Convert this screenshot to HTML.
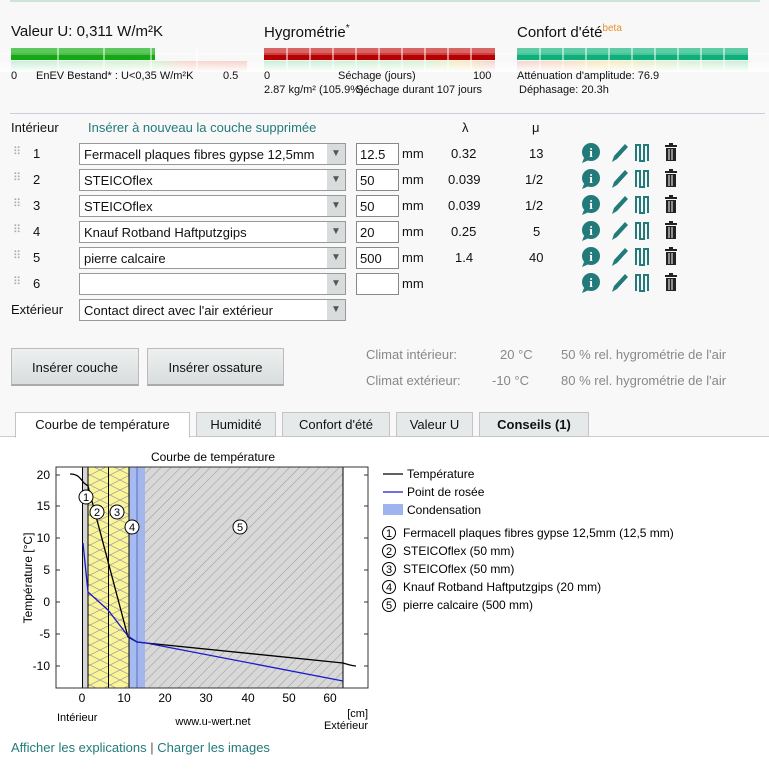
<!DOCTYPE html>
<html><head><meta charset="utf-8"><style>
*{margin:0;padding:0;box-sizing:border-box}
body{width:769px;height:770px;position:relative;background:#fff;font-family:"Liberation Sans","DejaVu Sans",sans-serif;font-size:13px;color:#111;overflow:hidden}
.top{position:absolute;left:0;top:0;width:769px;height:436px;background:#f8f8f8}
.a{position:absolute;white-space:nowrap}
.sel{position:absolute;left:79px;width:267px;height:22px;background:#fff;border:1px solid #999;font-size:13px;padding:3px 4px;overflow:hidden;white-space:nowrap}
.sel:after{content:"▼";position:absolute;right:0;top:0;width:18px;height:20px;background:#d8dcdc;color:#555;font-size:10px;text-align:center;line-height:20px}
.inp{position:absolute;left:356px;width:43px;height:22px;background:#fff;border:1px solid #888;padding:3px 3px;font-size:13px}
.btn{position:absolute;top:348px;height:38px;background:linear-gradient(#eef0f0,#d9dddd);border:1px solid #bbb;border-bottom:2px solid #aaa;text-align:center;line-height:38px;font-size:13px}
.tab{position:absolute;top:412px;height:25px;background:#e6e9e9;border:1px solid #c4c4c4;text-align:center;line-height:24px;font-size:13px}
.bar{position:absolute;height:12px}
.gry{color:#888}
</style></head><body>
<div class="top"></div>
<div class="a" style="left:10px;top:0;width:750px;height:2px;background:#cfe3d6"></div>

<div class="a" style="left:11px;top:23px;font-size:15px">Valeur U: 0,311 W/m²K</div>
<div class="a" style="left:264px;top:23px;font-size:15px">Hygrométrie<sup style="font-size:10px">*</sup></div>
<div class="a" style="left:517px;top:23px;font-size:15px">Confort d'été<sup style="font-size:10px;color:#e8902a">beta</sup></div>

<svg class="a" style="left:0;top:46px" width="769" height="28">
<defs>
<linearGradient id="fade" x1="0" y1="0" x2="0" y2="1"><stop offset="0" stop-color="#fff" stop-opacity="0"/><stop offset="1" stop-color="#fff" stop-opacity="1"/></linearGradient>
<linearGradient id="f1" x1="0" x2="1"><stop offset="0" stop-color="#c8efd8"/><stop offset="0.6" stop-color="#d9f2d6"/><stop offset="0.75" stop-color="#f7d7d2"/><stop offset="1" stop-color="#f5d3cf"/></linearGradient>
<linearGradient id="f2" x1="0" x2="1"><stop offset="0" stop-color="#c8efd8"/><stop offset="0.7" stop-color="#d9f2d6"/><stop offset="0.85" stop-color="#f8ecc0"/><stop offset="1" stop-color="#f5d3cf"/></linearGradient>
<linearGradient id="f3" x1="0" x2="1"><stop offset="0" stop-color="#f5d3cf"/><stop offset="0.4" stop-color="#f8ecc0"/><stop offset="0.7" stop-color="#d9f2d6"/><stop offset="1" stop-color="#c8efd8"/></linearGradient>
</defs>
<rect x="11" y="2" width="144" height="12" fill="#14a814"/><rect x="11" y="2" width="144" height="5" fill="#5cc85c"/>
<rect x="11" y="15" width="236" height="11" fill="url(#f1)"/>
<rect x="264" y="2" width="231" height="12" fill="#b80000"/><rect x="264" y="2" width="231" height="5" fill="#d86464"/>
<rect x="264" y="15" width="231" height="11" fill="url(#f2)"/>
<rect x="517" y="2" width="231" height="12" fill="#0eb07a"/><rect x="517" y="2" width="231" height="5" fill="#5ccca4"/>
<rect x="517" y="15" width="231" height="11" fill="url(#f3)"/>
<rect x="0" y="15" width="769" height="11" fill="url(#fade)"/>
<g stroke="#fff" stroke-width="1">
<line x1="58" y1="2" x2="58" y2="26"/><line x1="104" y1="2" x2="104" y2="26"/><line x1="151" y1="2" x2="151" y2="26"/><line x1="197" y1="2" x2="197" y2="26"/>
<line x1="287" y1="2" x2="287" y2="26"/><line x1="310" y1="2" x2="310" y2="26"/><line x1="333" y1="2" x2="333" y2="26"/><line x1="356" y1="2" x2="356" y2="26"/><line x1="379" y1="2" x2="379" y2="26"/><line x1="402" y1="2" x2="402" y2="26"/><line x1="425" y1="2" x2="425" y2="26"/><line x1="448" y1="2" x2="448" y2="26"/><line x1="471" y1="2" x2="471" y2="26"/>
<line x1="540" y1="2" x2="540" y2="26"/><line x1="563" y1="2" x2="563" y2="26"/><line x1="586" y1="2" x2="586" y2="26"/><line x1="609" y1="2" x2="609" y2="26"/><line x1="632" y1="2" x2="632" y2="26"/><line x1="655" y1="2" x2="655" y2="26"/><line x1="678" y1="2" x2="678" y2="26"/><line x1="701" y1="2" x2="701" y2="26"/><line x1="724" y1="2" x2="724" y2="26"/>
<line x1="0" y1="8" x2="769" y2="8" stroke="#fff" stroke-opacity="0.5"/>
</g>
</svg>
<div class="a" style="left:11px;top:70px;font-size:11px">0</div>
<div class="a" style="left:36px;top:70px;font-size:11px">EnEV Bestand* : U&lt;0,35 W/m²K</div>
<div class="a" style="left:223px;top:70px;font-size:11px">0.5</div>
<div class="a" style="left:264px;top:70px;font-size:11px">0</div>
<div class="a" style="left:338px;top:70px;font-size:11px">Séchage (jours)</div>
<div class="a" style="left:473px;top:70px;font-size:11px">100</div>
<div class="a" style="left:264px;top:84px;font-size:11px">2.87 kg/m² (105.9%)</div>
<div class="a" style="left:356px;top:84px;font-size:11px">Séchage durant 107 jours</div>
<div class="a" style="left:517px;top:70px;font-size:11px">Atténuation d'amplitude: 76.9</div>
<div class="a" style="left:519px;top:84px;font-size:11px">Déphasage: 20.3h</div>

<div class="a" style="left:10px;top:113px;width:755px;height:1px;background:#ccd"></div>
<div class="a" style="left:11px;top:120px">Intérieur</div>
<div class="a" style="left:88px;top:120px;color:#237a7a">Insérer à nouveau la couche supprimée</div>
<div class="a" style="left:462px;top:120px">λ</div>
<div class="a" style="left:532px;top:120px">μ</div>

<!-- rows -->
<div class="a gry" style="left:13px;top:145px;font-size:11px;color:#aaa">⠿</div><div class="a" style="left:33px;top:146px">1</div>
<div class="sel" style="top:143px">Fermacell plaques fibres gypse 12,5mm</div><div class="inp" style="top:143px">12.5</div>
<div class="a" style="left:402px;top:146px">mm</div><div class="a" style="left:451px;top:146px">0.32</div><div class="a" style="left:529px;top:146px">13</div>

<div class="a" style="left:13px;top:171px;font-size:11px;color:#aaa">⠿</div><div class="a" style="left:33px;top:172px">2</div>
<div class="sel" style="top:169px">STEICOflex</div><div class="inp" style="top:169px">50</div>
<div class="a" style="left:402px;top:172px">mm</div><div class="a" style="left:448px;top:172px">0.039</div><div class="a" style="left:525px;top:172px">1/2</div>

<div class="a" style="left:13px;top:197px;font-size:11px;color:#aaa">⠿</div><div class="a" style="left:33px;top:198px">3</div>
<div class="sel" style="top:195px">STEICOflex</div><div class="inp" style="top:195px">50</div>
<div class="a" style="left:402px;top:198px">mm</div><div class="a" style="left:448px;top:198px">0.039</div><div class="a" style="left:525px;top:198px">1/2</div>

<div class="a" style="left:13px;top:223px;font-size:11px;color:#aaa">⠿</div><div class="a" style="left:33px;top:224px">4</div>
<div class="sel" style="top:221px">Knauf Rotband Haftputzgips</div><div class="inp" style="top:221px">20</div>
<div class="a" style="left:402px;top:224px">mm</div><div class="a" style="left:451px;top:224px">0.25</div><div class="a" style="left:533px;top:224px">5</div>

<div class="a" style="left:13px;top:249px;font-size:11px;color:#aaa">⠿</div><div class="a" style="left:33px;top:250px">5</div>
<div class="sel" style="top:247px">pierre calcaire</div><div class="inp" style="top:247px">500</div>
<div class="a" style="left:402px;top:250px">mm</div><div class="a" style="left:455px;top:250px">1.4</div><div class="a" style="left:529px;top:250px">40</div>

<div class="a" style="left:13px;top:275px;font-size:11px;color:#aaa">⠿</div><div class="a" style="left:33px;top:276px">6</div>
<div class="sel" style="top:273px"></div><div class="inp" style="top:273px"></div>
<div class="a" style="left:402px;top:276px">mm</div>

<svg class="a" style="left:580px;top:140px" width="110" height="160">
<g id="ic">
<circle cx="11" cy="12" r="9" fill="#237a7a"/><path d="M4 18 L2 23 L9 20Z" fill="#237a7a"/><text x="11" y="17" font-size="13" font-weight="bold" fill="#fff" text-anchor="middle" font-family="Liberation Serif">i</text>
<path d="M32 22 L34 16 L45 4 L48 7 L37 19 Z" fill="#237a7a"/>
<path d="M56 21 V5 H60 V21 H64 V5 H68 V21" fill="none" stroke="#237a7a" stroke-width="2"/>
<rect x="85" y="5" width="12" height="2" fill="#222"/><rect x="89" y="3" width="4" height="2" fill="#222"/><rect x="86" y="8" width="10" height="13" fill="#222"/><line x1="89" y1="9" x2="89" y2="20" stroke="#fff"/><line x1="92" y1="9" x2="92" y2="20" stroke="#fff"/>
</g>
<use href="#ic" y="26"/><use href="#ic" y="52"/><use href="#ic" y="78"/><use href="#ic" y="104"/><use href="#ic" y="130"/>
</svg>

<div class="a" style="left:11px;top:302px">Extérieur</div>
<div class="sel" style="top:299px">Contact direct avec l'air extérieur</div>

<div class="btn" style="left:11px;width:128px">Insérer couche</div>
<div class="btn" style="left:147px;width:137px">Insérer ossature</div>
<div class="a gry" style="left:366px;top:347px">Climat intérieur:</div>
<div class="a gry" style="left:500px;top:347px">20 °C</div>
<div class="a gry" style="left:561px;top:347px">50 % rel. hygrométrie de l'air</div>
<div class="a gry" style="left:366px;top:373px">Climat extérieur:</div>
<div class="a gry" style="left:492px;top:373px">-10 °C</div>
<div class="a gry" style="left:561px;top:373px">80 % rel. hygrométrie de l'air</div>

<div class="a" style="left:0;top:436px;width:769px;height:1px;background:#ccc"></div>
<div class="tab" style="left:15px;width:175px;background:#fff;border-bottom-color:#fff;height:26px">Courbe de température</div>
<div class="tab" style="left:196px;width:80px">Humidité</div>
<div class="tab" style="left:282px;width:108px">Confort d'été</div>
<div class="tab" style="left:396px;width:77px">Valeur U</div>
<div class="tab" style="left:479px;width:110px;font-weight:bold">Conseils (1)</div>

<svg class="a" style="left:0;top:440px" width="769" height="300" font-family="Liberation Sans,sans-serif">
<defs>
<pattern id="diag" width="7" height="7" patternUnits="userSpaceOnUse" patternTransform="rotate(45)"><rect width="7" height="7" fill="#d8d8d8"/><line x1="0" y1="0" x2="0" y2="7" stroke="#888" stroke-width="0.8"/></pattern>
<pattern id="xx" width="20" height="10" patternUnits="userSpaceOnUse"><rect width="20" height="10" fill="#fbf59a"/><path d="M0 0 L20 10 M0 10 L20 0" stroke="#999" stroke-width="0.7"/></pattern>
</defs>
<text x="213" y="21" font-size="12" text-anchor="middle">Courbe de température</text>
<rect x="56" y="27" width="312" height="221" fill="#fff"/>
<rect x="82.5" y="27" width="5" height="221" fill="#d6d6d6"/>
<rect x="88" y="27" width="20.5" height="221" fill="url(#xx)"/>
<rect x="108.5" y="27" width="20.5" height="221" fill="url(#xx)"/>
<rect x="137" y="27" width="206" height="221" fill="url(#diag)"/>
<rect x="129" y="27" width="16" height="221" fill="#9db4f0" fill-opacity="0.9"/>
<g stroke="#000" stroke-width="1">
<line x1="82.5" y1="27" x2="82.5" y2="248"/><line x1="88" y1="27" x2="88" y2="248"/><line x1="108.5" y1="27" x2="108.5" y2="248"/><line x1="129" y1="27" x2="129" y2="248"/><line x1="343" y1="27" x2="343" y2="248"/>
</g>
<line x1="137" y1="27" x2="137" y2="248" stroke="#5570c0"/>
<rect x="56" y="27" width="312" height="221" fill="none" stroke="#333"/>
<g stroke="#333">
<line x1="56" y1="35" x2="60" y2="35"/><line x1="56" y1="66" x2="60" y2="66"/><line x1="56" y1="98" x2="60" y2="98"/><line x1="56" y1="130" x2="60" y2="130"/><line x1="56" y1="162" x2="60" y2="162"/><line x1="56" y1="194" x2="60" y2="194"/><line x1="56" y1="226" x2="60" y2="226"/>
<line x1="364" y1="35" x2="368" y2="35"/><line x1="364" y1="66" x2="368" y2="66"/><line x1="364" y1="98" x2="368" y2="98"/><line x1="364" y1="130" x2="368" y2="130"/><line x1="364" y1="162" x2="368" y2="162"/><line x1="364" y1="194" x2="368" y2="194"/><line x1="364" y1="226" x2="368" y2="226"/>
</g>
<g font-size="12" text-anchor="end">
<text x="50" y="39">20</text><text x="50" y="70">15</text><text x="50" y="102">10</text><text x="50" y="134">5</text><text x="50" y="166">0</text><text x="50" y="198">-5</text><text x="50" y="230">-10</text>
</g>
<g font-size="12" text-anchor="middle">
<text x="82" y="262">0</text><text x="124" y="262">10</text><text x="165" y="262">20</text><text x="206" y="262">30</text><text x="248" y="262">40</text><text x="289" y="262">50</text><text x="330" y="262">60</text>
</g>
<text transform="translate(32,138) rotate(-90)" font-size="12" text-anchor="middle">Température [°C]</text>
<text x="57" y="281" font-size="11">Intérieur</text>
<text x="213" y="285" font-size="11" text-anchor="middle">www.u-wert.net</text>
<text x="368" y="277" font-size="11" text-anchor="end">[cm]</text>
<text x="368" y="289" font-size="11" text-anchor="end">Extérieur</text>
<path d="M70 34 C78 34 80 38 84 43 L88 46 L128 197 L137 202 L146 203 L343 223 C350 225 352 226 356 226" fill="none" stroke="#000" stroke-width="1.3"/>
<path d="M83 103 L88 152 L108 170 L128 196 L137 202 L146 203 L343 241" fill="none" stroke="#1a1acc" stroke-width="1.3"/>
<g font-size="11" text-anchor="middle">
<circle cx="86" cy="57" r="7" fill="#fff" stroke="#000"/><text x="86" y="61">1</text>
<circle cx="97" cy="72" r="7" fill="#fff" stroke="#000"/><text x="97" y="76">2</text>
<circle cx="117" cy="72" r="7" fill="#fff" stroke="#000"/><text x="117" y="76">3</text>
<circle cx="132" cy="87" r="7" fill="#fff" stroke="#000"/><text x="132" y="91">4</text>
<circle cx="240" cy="87" r="7" fill="#fff" stroke="#000"/><text x="240" y="91">5</text>
</g>
<g font-size="12">
<line x1="383" y1="34" x2="403" y2="34" stroke="#000" stroke-width="1.3"/><text x="407" y="38">Température</text>
<line x1="383" y1="52" x2="403" y2="52" stroke="#1a1acc" stroke-width="1.3"/><text x="407" y="56">Point de rosée</text>
<rect x="383" y="64" width="20" height="11" fill="#9db4f0"/><text x="407" y="74">Condensation</text>
<g font-size="11" text-anchor="middle">
<circle cx="389" cy="93" r="6.5" fill="#fff" stroke="#000"/><text x="389" y="97">1</text>
<circle cx="389" cy="111" r="6.5" fill="#fff" stroke="#000"/><text x="389" y="115">2</text>
<circle cx="389" cy="129" r="6.5" fill="#fff" stroke="#000"/><text x="389" y="133">3</text>
<circle cx="389" cy="147" r="6.5" fill="#fff" stroke="#000"/><text x="389" y="151">4</text>
<circle cx="389" cy="165" r="6.5" fill="#fff" stroke="#000"/><text x="389" y="169">5</text>
</g>
<text x="403" y="97">Fermacell plaques fibres gypse 12,5mm (12,5 mm)</text>
<text x="403" y="115">STEICOflex (50 mm)</text>
<text x="403" y="133">STEICOflex (50 mm)</text>
<text x="403" y="151">Knauf Rotband Haftputzgips (20 mm)</text>
<text x="403" y="169">pierre calcaire (500 mm)</text>
</g>
</svg>

<div class="a" style="left:11px;top:740px;color:#237a7a">Afficher les explications <span style="color:#555">|</span> Charger les images</div>
</body></html>
